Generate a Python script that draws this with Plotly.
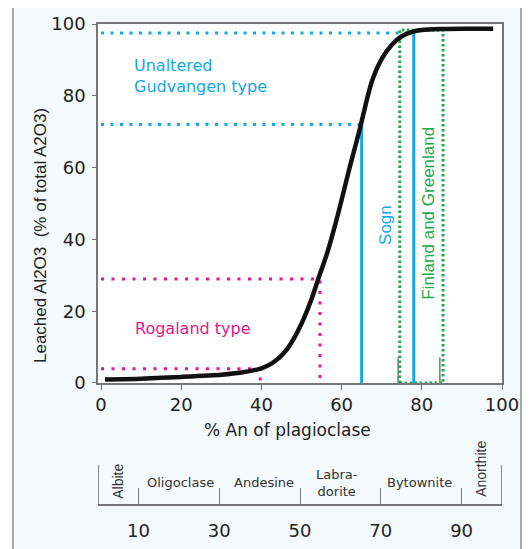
import plotly.graph_objects as go

# ---------------- data ----------------
an_pct = [1, 10, 20, 30, 35, 40, 42.5, 44.6, 46.5, 47.9, 49.2, 50.4, 52.6, 54.1, 56.4, 59.1, 62, 64.6, 66.2, 67.6, 70, 72.6, 75, 77.6, 80, 84.5, 90, 97.8]
leached = [1.0, 1.2, 1.7, 2.3, 2.9, 4.1, 5.4, 7.2, 9.6, 12, 14.7, 17.5, 23.7, 28.7, 36.2, 47, 60, 71, 78.5, 84.2, 90.3, 94.3, 96.6, 97.8, 98.3, 98.6, 98.7, 98.7]

gudvangen_levels = [97.5, 72]      # blue dotted horizontal levels
gudvangen_x_end = [78, 65]         # where they meet the Sogn lines
sogn_x = [65, 78]                  # blue vertical lines
sogn_top = [72, 97.5]

rogaland_levels = [29, 4]          # magenta dotted levels
rogaland_x = [54.6, 39.7]          # magenta dotted verticals

finland_x = [74.5, 85.3]           # green dotted box
finland_top = 98.3
gray_marks_x = [74.1, 84.5]
gray_marks_top = 7.2

x_ticks = [0, 20, 40, 60, 80, 100]
y_ticks = [0, 20, 40, 60, 80, 100]

plag_ticks = [10, 30, 50, 70, 90]
plag_ends = [0, 100]
plag_names = ["Albite", "Oligoclase", "Andesine", "Labra-<br>dorite", "Bytownite", "Anorthite"]
plag_name_x = [4.9, 20.5, 41, 59.2, 79.5, 94.8]
plag_name_y = [0.40, 0.37, 0.37, 0.37, 0.37, 0.61]
plag_name_angle = [-90, 0, 0, 0, 0, -90]

CYAN = "#12a8e6"
MAGENTA = "#ec148c"
GREEN = "#1fa84a"
HFONT = "DejaVu Sans"
RFONT = "Liberation Sans"

fig = go.Figure()

# blue dotted levels
for lvl, xe in zip(gudvangen_levels, gudvangen_x_end):
    fig.add_trace(go.Scatter(x=[0, xe], y=[lvl, lvl], mode="lines",
                             line=dict(color=CYAN, width=3, dash="3px,6.5px"),
                             hoverinfo="skip", showlegend=False))
# magenta dotted
for lvl, xv in zip(rogaland_levels, rogaland_x):
    fig.add_trace(go.Scatter(x=[0, xv, xv], y=[lvl, lvl, 0], mode="lines",
                             line=dict(color=MAGENTA, width=3, dash="3px,7.5px"),
                             hoverinfo="skip", showlegend=False))
# gray marks
for gx in gray_marks_x:
    fig.add_trace(go.Scatter(x=[gx, gx], y=[0, gray_marks_top], mode="lines",
                             line=dict(color="#777777", width=1.5),
                             hoverinfo="skip", showlegend=False))
# green dotted box
fig.add_trace(go.Scatter(x=[finland_x[0], finland_x[0], finland_x[1], finland_x[1], finland_x[0]],
                         y=[0, finland_top, finland_top, 0, 0], mode="lines",
                         line=dict(color=GREEN, width=3, dash="2.5px,2.5px"),
                         hoverinfo="skip", showlegend=False))
# blue verticals
for sx, st in zip(sogn_x, sogn_top):
    fig.add_trace(go.Scatter(x=[sx, sx], y=[0, st], mode="lines",
                             line=dict(color=CYAN, width=3),
                             hoverinfo="skip", showlegend=False))
# main curve
fig.add_trace(go.Scatter(x=an_pct, y=leached, mode="lines",
                         line=dict(color="#111111", width=4.5, shape="spline", smoothing=0.6),
                         hoverinfo="skip", showlegend=False))

# bottom scale end ticks
for ex in plag_ends:
    fig.add_trace(go.Scatter(x=[ex, ex], y=[0, 0.68], mode="lines", xaxis="x2", yaxis="y2",
                             line=dict(color="#666666", width=1.5),
                             hoverinfo="skip", showlegend=False))

# texts in the plot
fig.add_annotation(x=7.7, y=85.4, text="Unaltered<br>Gudvangen type", showarrow=False,
                   xanchor="left", yanchor="middle", align="left",
                   font=dict(family=HFONT, size=16, color=CYAN))
fig.add_annotation(x=8, y=15.3, text="Rogaland type", showarrow=False,
                   xanchor="left", yanchor="middle",
                   font=dict(family=HFONT, size=16, color=MAGENTA))
fig.add_annotation(x=70.8, y=44, text="Sogn", showarrow=False, textangle=-90,
                   xanchor="center", yanchor="middle",
                   font=dict(family=RFONT, size=17, color=CYAN))
fig.add_annotation(x=81.6, y=47.2, text="Finland and Greenland", showarrow=False, textangle=-90,
                   xanchor="center", yanchor="middle",
                   font=dict(family=RFONT, size=17, color=GREEN))

# plagioclase names
for name, nx, ny, ang in zip(plag_names, plag_name_x, plag_name_y, plag_name_angle):
    fig.add_annotation(x=nx, y=ny, xref="x2", yref="y2", text=name, showarrow=False,
                       textangle=ang, xanchor="center", yanchor="middle",
                       font=dict(family=HFONT if ang == 0 else RFONT,
                                 size=13 if ang == 0 else 14, color="#333333"))

# axis titles
fig.add_annotation(x=0.470, y=0.154, xref="paper", yref="paper", text="% An of plagioclase",
                   showarrow=False, xanchor="center", yanchor="middle",
                   font=dict(family=HFONT, size=17, color="#222222"))
fig.add_annotation(x=-0.1436, y=0.5604, xref="paper", yref="paper",
                   text="Leached Al2O3  (% of total A2O3)", textangle=-90,
                   showarrow=False, xanchor="center", yanchor="middle",
                   font=dict(family=RFONT, size=17, color="#222222"))

# background frame + white plotting area
fig.add_shape(type="rect", xref="paper", yref="paper", x0=-0.2104, x1=1.047, y0=-0.25, y1=1.0396,
              line=dict(color="#a8a8a8", width=2), fillcolor="#f4f9fc", layer="below")
fig.add_shape(type="rect", xref="x domain", yref="y domain", x0=0, x1=1, y0=0, y1=1,
              line=dict(width=0), fillcolor="white", layer="below")

axis_common = dict(showgrid=False, zeroline=False, showline=True, linecolor="#777777",
                   linewidth=1.5, tickcolor="#777777", automargin=False,
                   tickfont=dict(family=HFONT, size=18, color="#222222"))

# page body adds an 8px offset, so margins are shifted by -8px
fig.update_layout(
    width=530, height=549,
    margin=dict(l=90, r=36, t=16, b=53, autoexpand=False),
    paper_bgcolor="white", plot_bgcolor="rgba(0,0,0,0)",
    xaxis=dict(domain=[0, 1], range=[-0.75, 100], anchor="y", mirror=True,
               tickvals=x_ticks, ticks="outside", ticklen=5, **axis_common),
    yaxis=dict(domain=[0.2521, 1], range=[0, 100], anchor="x", mirror=True,
               tickvals=y_ticks, ticks="outside", ticklen=4, ticklabelstandoff=3, **axis_common),
    xaxis2=dict(domain=[0, 1], range=[0, 100], anchor="y2",
                tickvals=plag_ticks, ticks="inside", ticklen=16, ticklabelstandoff=10,
                **axis_common),
    yaxis2=dict(domain=[0, 0.12], range=[0, 1], anchor="x2", visible=False),
)

fig.write_html("out.html")
